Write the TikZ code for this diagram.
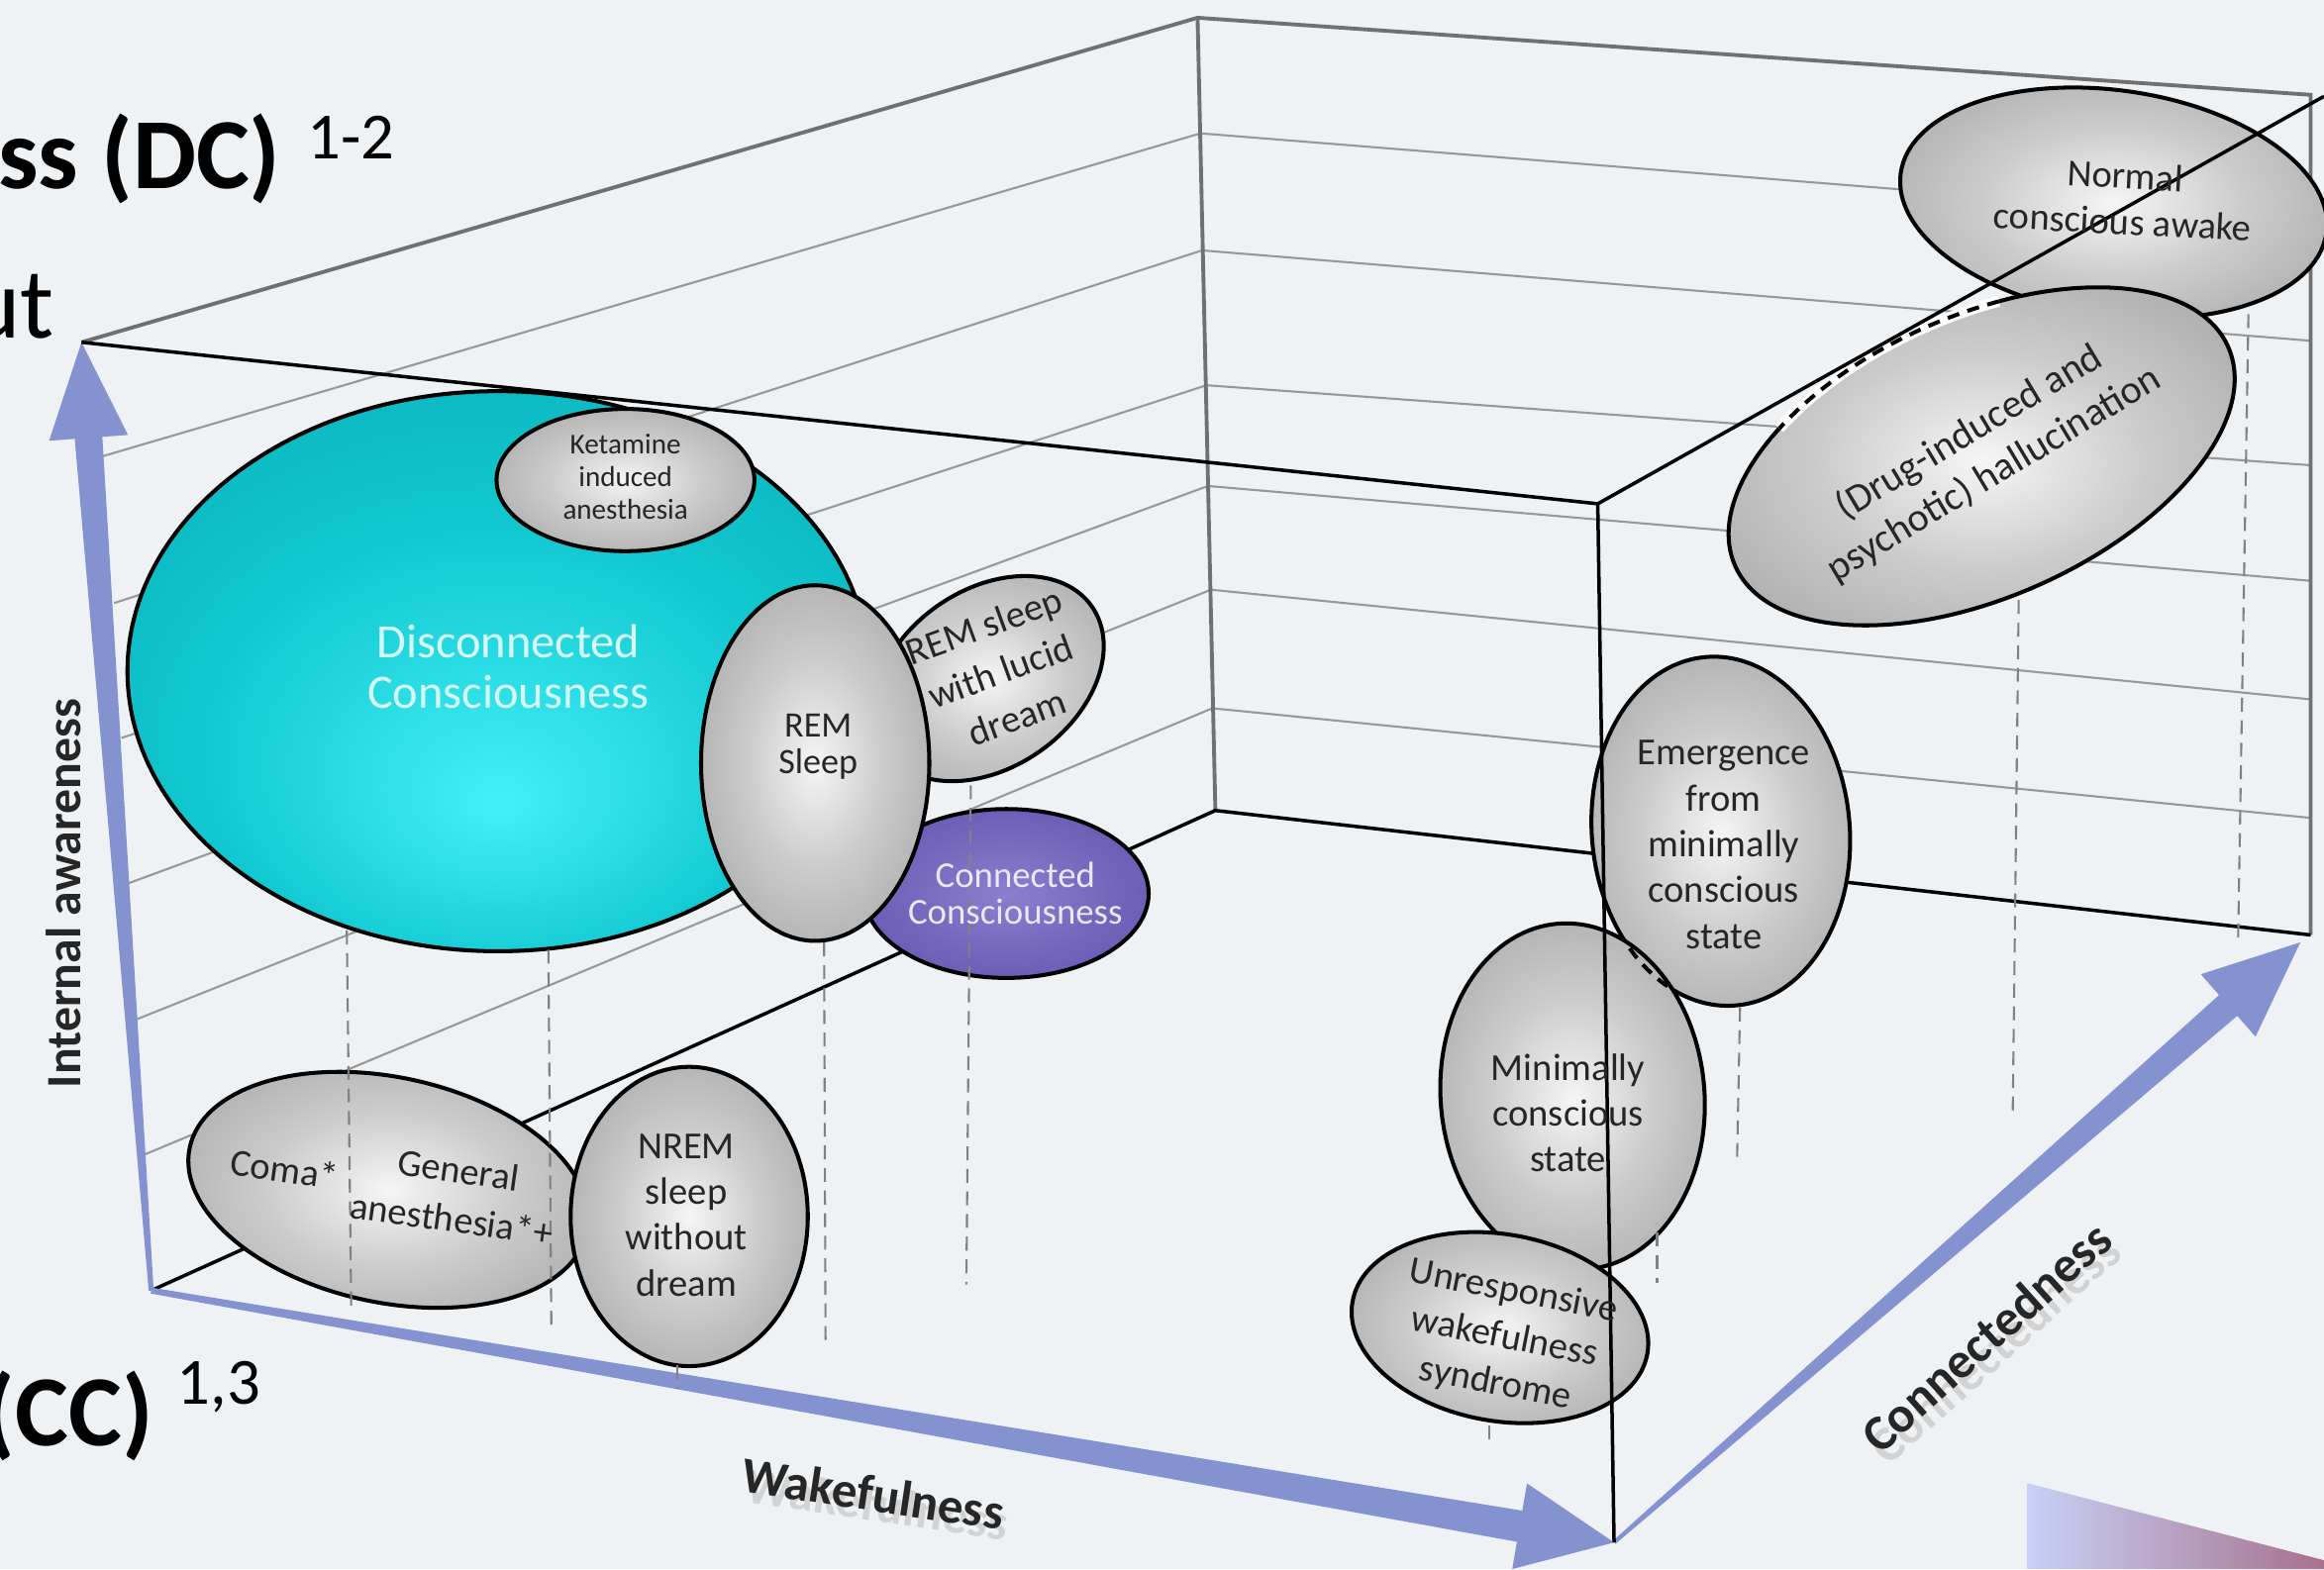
\documentclass[tikz,border=0pt]{standalone}
\usepackage{fontspec}
\setmainfont{Carlito}
\usetikzlibrary{calc}

\definecolor{bgcol}{RGB}{238,242,245}
\definecolor{axisblue}{RGB}{132,146,207}
\definecolor{gridgrey}{RGB}{152,152,152}
\definecolor{edgegrey}{RGB}{112,112,112}
\definecolor{inkgrey}{RGB}{38,38,38}
\definecolor{ballhi}{RGB}{245,245,245}
\definecolor{ballmid}{RGB}{203,203,203}
\definecolor{balllo}{RGB}{130,130,130}
\definecolor{tealhi}{RGB}{66,240,248}
\definecolor{tealmid}{RGB}{18,200,208}
\definecolor{teallo}{RGB}{0,158,166}
\definecolor{purphi}{RGB}{140,126,206}
\definecolor{purplo}{RGB}{76,60,158}
\definecolor{wedgel}{RGB}{198,210,246}
\definecolor{wedger}{RGB}{168,112,142}

\pgfdeclareradialshading{greyball}{\pgfpointorigin}{color(0bp)=(ballhi); color(15bp)=(ballmid); color(50bp)=(balllo)}
\pgfdeclareradialshading{tealball}{\pgfpoint{0bp}{-12bp}}{color(0bp)=(tealhi); color(20bp)=(tealmid); color(50bp)=(teallo)}
\pgfdeclareradialshading{purpball}{\pgfpointorigin}{color(0bp)=(purphi); color(50bp)=(purplo)}

\tikzset{
  stateshape/.style={draw=black, line width=1.15pt, shading=greyball},
  gridline/.style={draw=gridgrey, line width=0.6pt},
  backedge/.style={draw=edgegrey, line width=1.1pt},
  boxedge/.style={draw=black, line width=1pt},
  dropline/.style={draw=gridgrey!85!black, line width=0.6pt, dash pattern=on 4pt off 2.5pt},
  lbl/.style={align=center, inner sep=0pt, text=inkgrey, font=\fontsize{11}{13.2}\selectfont},
  axislbl/.style={inner sep=0pt, text=inkgrey, font=\fontsize{14.5}{16}\selectfont\bfseries},
  bigtxt/.style={inner sep=0pt, text=black, font=\fontsize{29}{34}\selectfont},
  reftxt/.style={inner sep=0pt, anchor=base west, text=black, font=\fontsize{19}{22}\selectfont},
}

% tapered axis: tail, tip, tail/neck/head half widths, head length
\newcommand{\axisarrow}[6]{%
  \path ($(#2)!#6!(#1)$) coordinate (#2-neck);
  \fill[axisblue] ($(#1)!#3!90:(#2)$) -- ($(#2-neck)!#4!90:(#2)$)
    -- ($(#2-neck)!#5!90:(#2)$) -- (#2) -- ($(#2-neck)!#5!-90:(#2)$)
    -- ($(#2-neck)!#4!-90:(#2)$) -- ($(#1)!#3!-90:(#2)$) -- cycle;}

\begin{document}
\begin{tikzpicture}[x=0.015cm, y=-0.015cm]
  \useasboundingbox (0,0) rectangle (1568,1059);
  \clip (0,0) rectangle (1568,1059);
  \fill[bgcol] (0,0) rectangle (1568,1059);
  \shade[left color=wedgel, right color=wedger] (1368,1001) -- (1568,1053) -- (1568,1059) -- (1368,1059) -- cycle;

  % box corners
  \coordinate (o) at (102,871);
  \coordinate (ftl) at (55,231);
  \coordinate (ftr) at (1078,340);
  \coordinate (fbr) at (1089,1041);
  \coordinate (btl) at (808,12);
  \coordinate (bbl) at (820,547);
  \coordinate (btr) at (1559,64);
  \coordinate (bbr) at (1559,631);
  \coordinate (ne) at (1568,65);
  \coordinate (ctip) at (1552,636);

  % side and back walls
  \foreach \lx/\ly/\bx/\by/\ry in {69/308/810/90/150, 77/407/811/169/230, 82/498/814/260/314,
      87/596/815/328/392, 92/688/817/398/472, 98/779/818/478/552}
    \draw[gridline] (\lx,\ly) -- (\bx,\by) -- (1559,\ry);
  \draw[backedge] (ftl) -- (btl) -- (btr) -- (bbr);
  \draw[backedge] (btl) -- (bbl);
  \draw[boxedge] (o) -- (bbl) -- (bbr);

  % axes
  \axisarrow{o}{ftl}{0.025cm}{0.14cm}{0.40cm}{0.97cm}
  \axisarrow{o}{fbr}{0.03cm}{0.16cm}{0.44cm}{0.97cm}
  \axisarrow{fbr}{ctip}{0.02cm}{0.14cm}{0.42cm}{0.97cm}

  % states
  \shadedraw[draw=black, line width=1.15pt, shading=tealball] (336,453) ellipse [x radius=250, y radius=189];
  \shadedraw[stateshape, rotate around={35:(667,458)}] (667,458) ellipse [x radius=85, y radius=60];
  \shadedraw[stateshape] (422,324) ellipse [x radius=87, y radius=48];
  \shadedraw[draw=black, line width=1.15pt, shading=purpball] (679,603) ellipse [x radius=96, y radius=57];
  \shadedraw[stateshape] (550,515) ellipse [x radius=77, y radius=120];
  \shadedraw[stateshape, rotate around={-12:(262,803)}] (262,803) ellipse [x radius=137, y radius=76];
  \shadedraw[stateshape] (465,821) ellipse [x radius=80, y radius=101];
  \shadedraw[stateshape, rotate around={5:(1161,561)}] (1161,561) ellipse [x radius=87, y radius=118];
  \shadedraw[stateshape, rotate around={5:(1061,740)}] (1061,740) ellipse [x radius=89, y radius=117];
  \begin{scope}
    \clip[rotate around={5:(1061,740)}] (1061,740) ellipse [x radius=89, y radius=117];
    \draw[line width=1.15pt, dash pattern=on 3.5pt off 2.5pt, rotate around={5:(1161,561)}] (1161,561) ellipse [x radius=87, y radius=118];
  \end{scope}
  \shadedraw[stateshape, rotate around={-10:(1012,896)}] (1012,896) ellipse [x radius=101, y radius=63];
  \shadedraw[stateshape, rotate around={-8:(1426,137)}] (1426,137) ellipse [x radius=145, y radius=76];
  \shadedraw[stateshape, rotate around={24:(1337,308)}] (1337,308) ellipse [x radius=182, y radius=95];
  \draw[white, line width=3pt, rotate around={24:(1337,308)}] (1390.2,217.2) arc [start angle=-73, end angle=-130, x radius=182, y radius=95];
  \draw[line width=1.15pt, dash pattern=on 3.5pt off 2.5pt, rotate around={24:(1337,308)}] (1390.2,217.2) arc [start angle=-73, end angle=-130, x radius=182, y radius=95];

  % front edges
  \draw[boxedge] (ftl) -- (ftr) -- (fbr);
  \draw[boxedge] (ftr) -- (ne);

  % drop lines to the floor
  \foreach \xa/\ya/\xb/\yb in {234/628/237/885, 370/641/372/897, 556/636/557/909, 655/530/652/867,
      1174/680/1172/782, 1118/832/1118/866, 1005/962/1005/974, 1362/405/1358/750, 1517/212/1510/636, 457/921/457/937}
    \draw[dropline] (\xa,\ya) -- (\xb,\yb);

  % state labels
  \node[lbl, text={rgb,255:red,215;green,248;blue,250}, font=\fontsize{13.8}{14.5}\selectfont] (dc) at (343,450) {Disconnected\\Consciousness};
  \node[lbl, font=\fontsize{8.3}{9.4}\selectfont] (ket) at (422,322) {Ketamine\\induced\\anesthesia};
  \node[lbl, font=\fontsize{10.3}{10.7}\selectfont] (rem) at (552,504) {REM\\Sleep};
  \node[lbl, rotate=20, font=\fontsize{11}{14}\selectfont] (lucid) at (675,453) {REM sleep\\with lucid\\dream};
  \node[lbl, text={rgb,255:red,232;green,232;blue,246}, font=\fontsize{10.5}{10.7}\selectfont] (cc) at (685,603) {Connected\\Consciousness};
  \node[lbl, rotate=-8] (coma) at (192,789) {Coma*};
  \node[lbl, rotate=-8, font=\fontsize{11}{14.3}\selectfont] (ga) at (307,806) {General\\anesthesia*+};
  \node[lbl] (nrem) at (463,820) {NREM\\sleep\\without\\dream};
  \node[lbl] (emcs) at (1163,570) {Emergence\\from\\minimally\\conscious\\state};
  \node[lbl] (mcs) at (1058,751) {Minimally\\conscious\\state};
  \node[lbl, rotate=-11, font=\fontsize{11}{13.6}\selectfont] (uws) at (1015,903) {Unresponsive\\wakefulness\\syndrome};
  \node[lbl, rotate=-3] (awake) at (1433,134) {Normal\\conscious awake};
  \node[lbl, rotate=31, font=\fontsize{11.5}{14}\selectfont] (halluc) at (1337,306) {(Drug-induced and\\psychotic) hallucination};

  % axis labels
  \node[axislbl, rotate=90, font=\fontsize{14.2}{16}\selectfont\bfseries] (aware) at (43,603) {Internal awareness};
  \node[axislbl, rotate=-8.5, text=gray!40, opacity=0.8] (wake-sh) at (592,1015) {Wakefulness};
  \node[axislbl, rotate=-8.5] (wake) at (589,1008) {Wakefulness};
  \node[axislbl, rotate=42, text=gray!35] (conn-sh) at (1346,910) {Connectedness};
  \node[axislbl, rotate=42] (conn) at (1340,902) {Connectedness};

  % cut-off slide text
  \node[bigtxt, anchor=base east, font=\fontsize{29}{34}\selectfont\bfseries] (dc-title) at (190,127) {ss (DC)};
  \node[reftxt] (dc-ref) at (207,107) {1-2};
  \node[bigtxt, anchor=base east] (ut-frag) at (37,228) {ut};
  \node[bigtxt, anchor=base east, font=\fontsize{29}{34}\selectfont\bfseries] (cc-title) at (104,976) {(CC)};
  \node[reftxt] (cc-ref) at (119,948) {1,3};
\end{tikzpicture}
\end{document}
